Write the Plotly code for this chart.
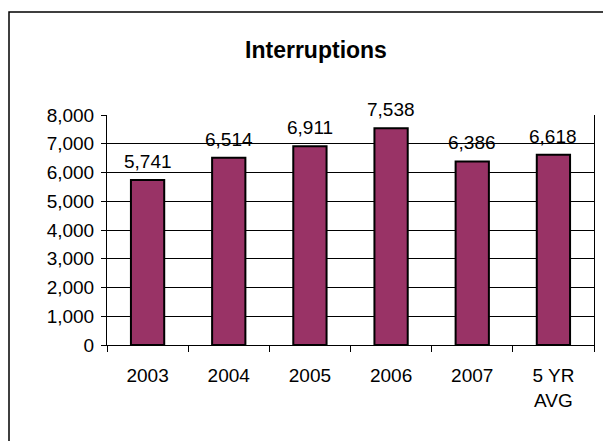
import plotly.graph_objects as go

categories = ["2003", "2004", "2005", "2006", "2007", "5 YR<br>AVG"]
values = [5741, 6514, 6911, 7538, 6386, 6618]
labels = ["5,741", "6,514", "6,911", "7,538", "6,386", "6,618"]
y_ticks = [0, 1000, 2000, 3000, 4000, 5000, 6000, 7000, 8000]
y_tick_labels = ["0", "1,000", "2,000", "3,000", "4,000", "5,000", "6,000", "7,000", "8,000"]

FONT = "Arial, Liberation Sans, sans-serif"
W, H = 611, 441
OFF = 8  # page offset
L, T, R, B = 107 - OFF, 115 - OFF, 594 - OFF, 345 - OFF
PW, PH = R - L, B - T

fig = go.Figure(go.Bar(
    x=categories, y=values,
    marker=dict(color="#993366", line=dict(color="black", width=2)),
))

fig.update_layout(
    width=W, height=H,
    margin=dict(l=L, r=W - R, t=T, b=H - B),
    paper_bgcolor="white", plot_bgcolor="white",
    bargap=0.59,
    showlegend=False,
    title=dict(text="<b>Interruptions</b>", x=(316 - OFF) / W, xref="container", xanchor="center",
               y=1 - (50 - OFF) / H, yref="container", yanchor="middle",
               font=dict(family=FONT, size=23, color="black")),
    font=dict(family=FONT, size=19, color="black"),
)
fig.update_yaxes(range=[0, 8000], tickvals=y_ticks, ticktext=y_tick_labels,
                 showgrid=True, gridcolor="black", gridwidth=1,
                 showline=True, linecolor="black", linewidth=1, mirror=True,
                 ticks="outside", ticklen=5, tickcolor="black", ticklabelstandoff=3,
                 tickfont=dict(family=FONT, size=19, color="black"), zeroline=False)
fig.update_xaxes(type="category", categoryorder="array", categoryarray=categories,
                 range=[-0.5, len(categories) - 0.5],
                 showline=True, linecolor="black", linewidth=1,
                 ticks="outside", tickson="boundaries", ticklen=6, tickcolor="black",
                 ticklabelstandoff=13,
                 tickfont=dict(family=FONT, size=19, color="black"), showgrid=False)

for i, (v, s) in enumerate(zip(values, labels)):
    fig.add_annotation(x=i, y=v, xref="x", yref="y", text=s, showarrow=False,
                       xanchor="center", yanchor="bottom", yshift=6,
                       font=dict(family=FONT, size=19, color="black"))

fig.add_shape(type="rect", xref="paper", yref="paper",
              x0=(9 - OFF - L) / PW, x1=(604 - OFF - L) / PW,
              y0=-(460 - B) / PH, y1=(B - (12 - OFF)) / PH,
              line=dict(color="black", width=1.5), fillcolor="rgba(0,0,0,0)", layer="below")

fig.write_html("out.html")
